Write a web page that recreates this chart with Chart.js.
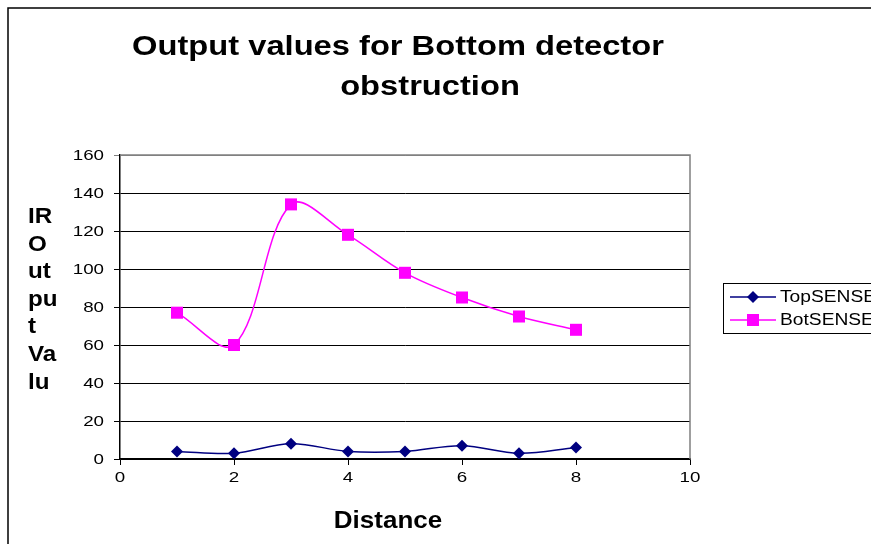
<!DOCTYPE html>
<html>
<head>
<meta charset="utf-8">
<script src="https://cdn.jsdelivr.net/npm/chart.js@4/dist/chart.umd.min.js"></script>
<style>
  html, body { margin: 0; padding: 0; background: #fff; }
  #wrap { width: 871px; height: 544px; position: relative; }
</style>
</head>
<body>
<div id="wrap"><canvas id="myChart" width="871" height="544"></canvas></div>
<script>
// values
var distance = [1, 2, 3, 4, 5, 6, 7, 8];
var topSense = [4, 3, 8, 4, 4, 7, 3, 6];
var botSense = [77, 60, 134, 118, 98, 85, 75, 68];

var titleLines = ["Output values for Bottom detector", "obstruction"];
var yTitleLines = ["IR", "O", "ut", "pu", "t", "Va", "lu"];
var xTitle = "Distance";
var seriesNames = ["TopSENSE", "BotSENSE"];

var FONT = "'Liberation Sans', Arial, sans-serif";

function pts(xs, ys) {
  var out = [];
  for (var i = 0; i < xs.length; i++) out.push({x: xs[i], y: ys[i]});
  return out;
}

// text drawn a bit wider, like the original picture
function wideText(ctx, txt, x, y, font, sx, align) {
  ctx.save();
  ctx.font = font;
  var w = ctx.measureText(txt).width * sx;
  var left = x;
  if (align === "center") left = x - w / 2;
  else if (align === "right") left = x - w;
  ctx.translate(left, y);
  ctx.scale(sx, 1);
  ctx.textAlign = "left";
  ctx.fillText(txt, 0, 0);
  ctx.restore();
}

var decorations = {
  id: "decorations",
  beforeDatasetsDraw: function(chart) {
    var ctx = chart.ctx, a = chart.chartArea;
    ctx.save();
    // plot area frame (grey on top / right)
    ctx.strokeStyle = "#808080";
    ctx.lineWidth = 1.5;
    ctx.beginPath();
    ctx.moveTo(a.left, a.top);
    ctx.lineTo(a.right, a.top);
    ctx.lineTo(a.right, a.bottom);
    ctx.stroke();
    ctx.restore();
  },
  afterDraw: function(chart) {
    var ctx = chart.ctx;
    var xs = chart.scales.x, ys = chart.scales.y;
    ctx.save();
    // outer chart border
    ctx.strokeStyle = "#000";
    ctx.lineWidth = 1.5;
    ctx.beginPath();
    ctx.moveTo(8, 560);
    ctx.lineTo(8, 8);
    ctx.lineTo(880, 8);
    ctx.stroke();

    ctx.fillStyle = "#000";
    ctx.textBaseline = "alphabetic";
    // title
    wideText(ctx, titleLines[0], 398, 55, "bold 27px " + FONT, 1.21, "center");
    wideText(ctx, titleLines[1], 430, 95, "bold 27px " + FONT, 1.21, "center");

    // y axis title, stacked
    for (var i = 0; i < yTitleLines.length; i++) {
      wideText(ctx, yTitleLines[i], 28, 223 + i * 27.6, "bold 22px " + FONT, 1.1, "left");
    }
    // x axis title
    wideText(ctx, xTitle, 388, 528, "bold 23px " + FONT, 1.13, "center");

    // tick labels from the scales
    ctx.textBaseline = "middle";
    ys.ticks.forEach(function(t) {
      wideText(ctx, String(t.value), 104, ys.getPixelForValue(t.value) + 1, "15px " + FONT, 1.25, "right");
    });
    xs.ticks.forEach(function(t) {
      wideText(ctx, String(t.value), xs.getPixelForValue(t.value), 478, "15px " + FONT, 1.25, "center");
    });

    // legend
    ctx.strokeStyle = "#000";
    ctx.lineWidth = 1;
    ctx.strokeRect(723.5, 283.5, 200, 50);
    var rows = [297, 320];
    var cols = ["#000080", "#FF00FF"];
    for (var k = 0; k < 2; k++) {
      ctx.strokeStyle = cols[k];
      ctx.lineWidth = 1.5;
      ctx.beginPath();
      ctx.moveTo(730, rows[k]);
      ctx.lineTo(776, rows[k]);
      ctx.stroke();
      ctx.fillStyle = cols[k];
      if (k === 0) {
        ctx.beginPath();
        ctx.moveTo(753, rows[k] - 6);
        ctx.lineTo(759, rows[k]);
        ctx.lineTo(753, rows[k] + 6);
        ctx.lineTo(747, rows[k]);
        ctx.closePath();
        ctx.fill();
      } else {
        ctx.fillRect(747, rows[k] - 6, 12, 12);
      }
      ctx.fillStyle = "#000";
      wideText(ctx, seriesNames[k], 780, rows[k] + 1, "16px " + FONT, 1.2, "left");
    }
    ctx.restore();
  }
};

var canvas = document.getElementById("myChart");
var myChart = new Chart(canvas, {
  type: "line",
  data: {
    datasets: [
      {
        label: seriesNames[0],
        data: pts(distance, topSense),
        borderColor: "#000080",
        backgroundColor: "#000080",
        borderWidth: 1.5,
        pointStyle: "rectRot",
        pointRadius: 6,
        pointBorderWidth: 0,
        tension: 0.35,
        fill: false
      },
      {
        label: seriesNames[1],
        data: pts(distance, botSense),
        borderColor: "#FF00FF",
        backgroundColor: "#FF00FF",
        borderWidth: 1.5,
        pointStyle: "rect",
        pointRadius: 8.5,
        pointBorderWidth: 0,
        tension: 0.35,
        fill: false
      }
    ]
  },
  options: {
    responsive: false,
    animation: false,
    layout: { padding: { top: 155, right: 181, bottom: 0, left: 0 } },
    plugins: {
      legend: { display: false },
      title: { display: false },
      tooltip: { enabled: false }
    },
    scales: {
      x: {
        type: "linear",
        min: 0,
        max: 10,
        ticks: { stepSize: 2, display: false },
        grid: { drawOnChartArea: false, tickLength: 6, color: "#000", lineWidth: 1 },
        border: { color: "#000", width: 1.5 },
        afterFit: function(s) { s.height = 85; }
      },
      y: {
        min: 0,
        max: 160,
        ticks: { stepSize: 20, display: false },
        grid: {
          tickLength: 6,
          lineWidth: 1,
          color: function(c) { return c.tick && c.tick.value === 160 ? "#808080" : "#000"; }
        },
        border: { color: "#000", width: 1.5 },
        afterFit: function(s) { s.width = 120; }
      }
    }
  },
  plugins: [decorations]
});
</script>
</body>
</html>
